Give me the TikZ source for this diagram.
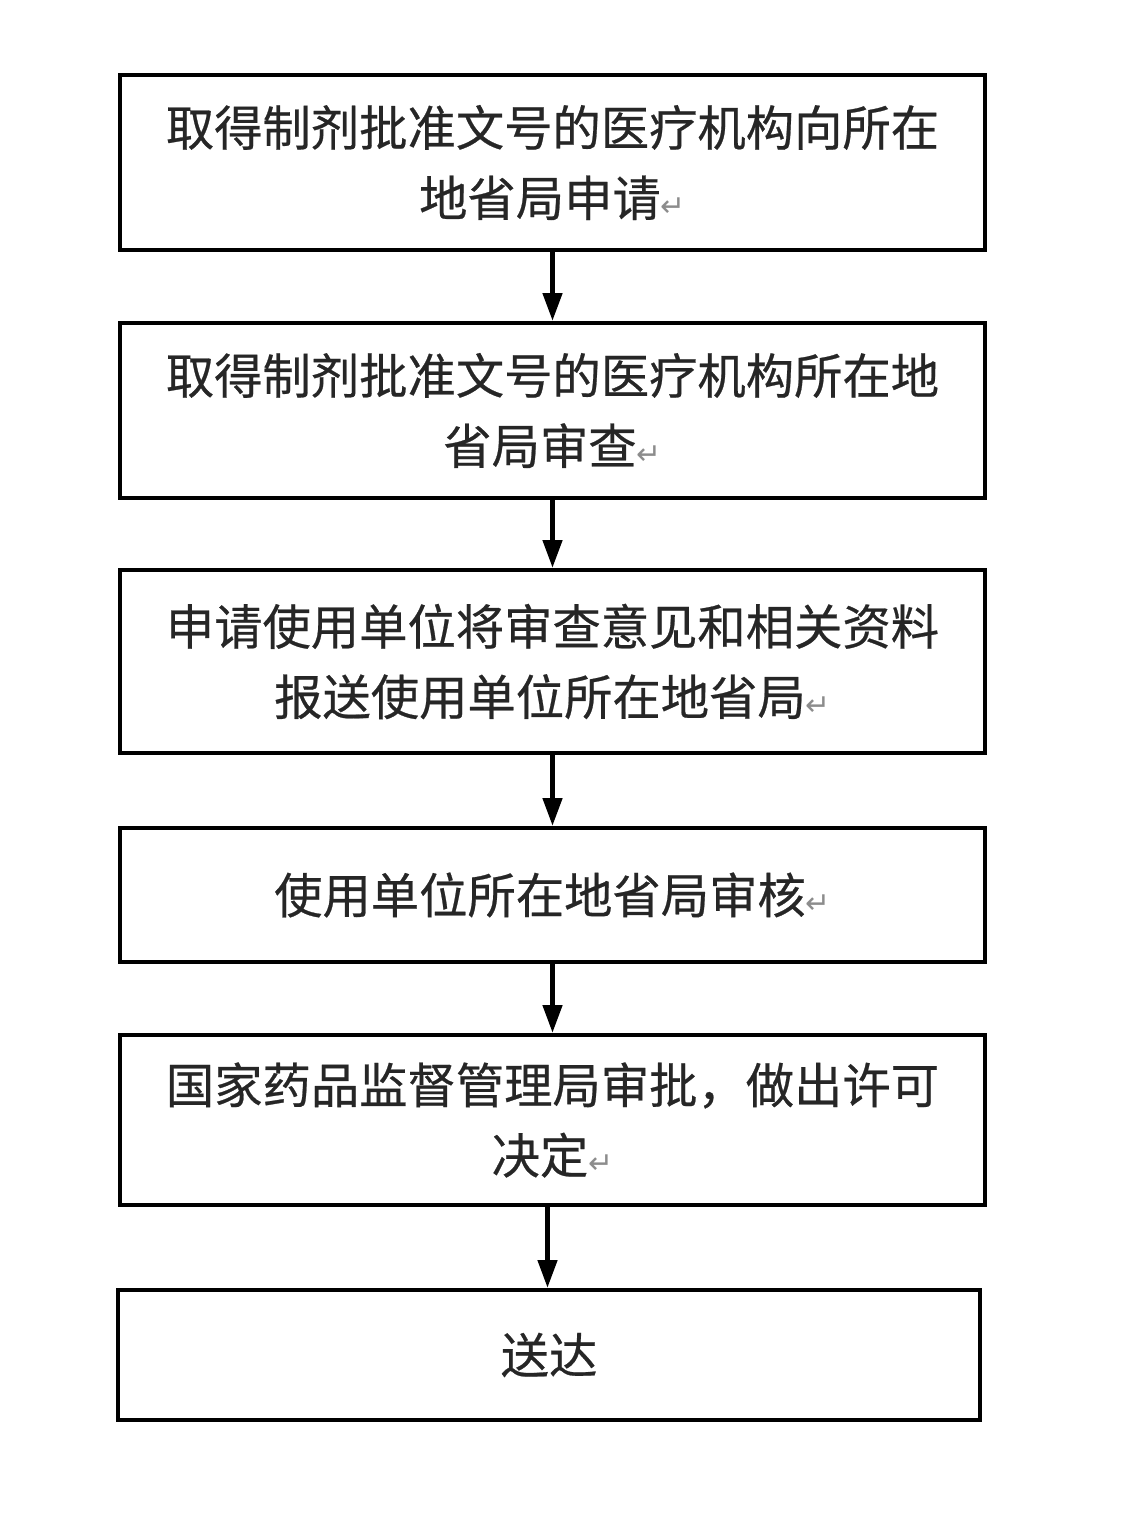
\documentclass[tikz,border=0pt]{standalone}
\usepackage{fontspec}
\usepackage{xcolor}
\usepackage{tikz}
\usetikzlibrary{arrows.meta,positioning,calc}
\setmainfont{Noto Sans CJK SC}[UprightFeatures={FakeBold=0.5}]
\newfontfamily\symfont{DejaVu Sans}
\newcommand{\parmark}{{\symfont\fontsize{17}{17}\selectfont\color{black!45}↵}}

\begin{document}
\begin{tikzpicture}[
    box/.style={rectangle, draw, line width=2.6pt, minimum width=17.3cm, align=center,
                font=\fontsize{27.5}{40}\selectfont, text=black!85},
    arrow/.style={-{Triangle[length=0.55cm,width=0.38cm]}, line width=2.4pt}
]
    \useasboundingbox (0,0) rectangle (22.5,-30.6);

    \node[box, minimum height=3.5cm] (apply) at (11.05,-3.25) {取得制剂批准文号的医疗机构向所在\\地省局申请\parmark};
    \node[box, minimum height=3.5cm] (review) at (11.05,-8.21) {取得制剂批准文号的医疗机构所在地\\省局审查\parmark};
    \node[box, minimum height=3.66cm] (submit) at (11.05,-13.23) {申请使用单位将审查意见和相关资料\\报送使用单位所在地省局\parmark};
    \node[box, minimum height=2.68cm] (check) at (11.05,-17.9) {使用单位所在地省局审核\parmark};
    \node[box, minimum height=3.4cm] (approve) at (11.05,-22.4) {国家药品监督管理局审批，做出许可\\决定\parmark};
    \node[box, minimum width=17.24cm, minimum height=2.6cm] (deliver) at (10.98,-27.1) {送达};

    \coordinate (turn) at ($(approve.south)+(-0.1,0)$);

    \draw[arrow] (apply) -- (review);
    \draw[arrow] (review) -- (submit);
    \draw[arrow] (submit) -- (check);
    \draw[arrow] (check) -- (approve);
    \draw[arrow] (turn) -- (turn |- deliver.north);
\end{tikzpicture}
\end{document}
